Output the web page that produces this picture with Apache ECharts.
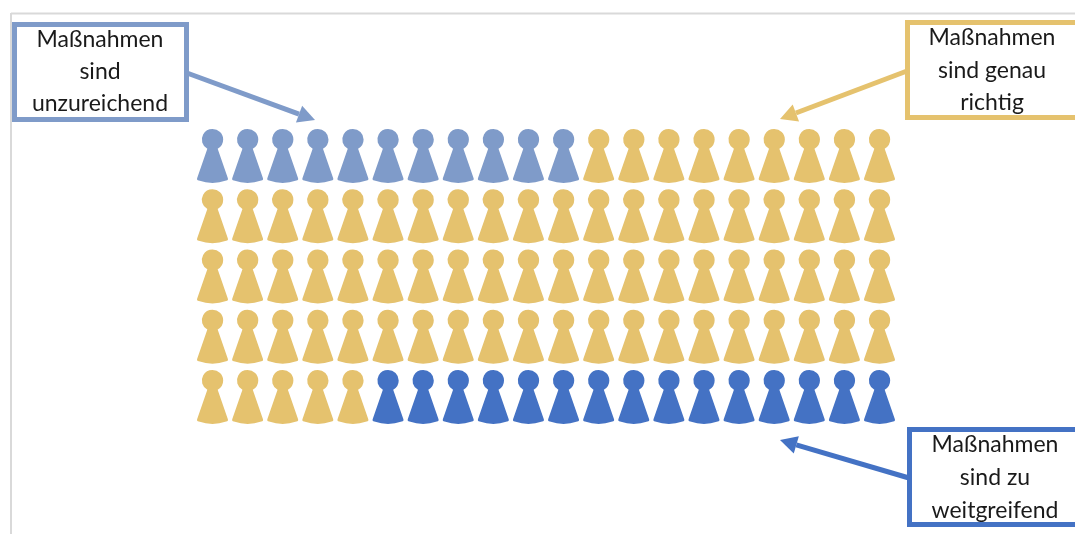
<!DOCTYPE html>
<html>
<head>
<meta charset="utf-8">
<style>html,body{margin:0;padding:0;background:#fff}#c{width:1075px;height:534px}</style>
<script src="https://cdn.jsdelivr.net/npm/echarts@6/dist/echarts.min.js"></script>
</head>
<body>
<div id="c"></div>
<script>
const categories = ['Maßnahmen sind unzureichend', 'Maßnahmen sind genau richtig', 'Maßnahmen sind zu weitgreifend'];
const counts = [11, 74, 15];
const colors = ['#7f9bc9', '#e5c26e', '#4472c4'];
const columns = 20;
const rows = 5;
const pawn = 'path://M15.5 0A10.5 10.5 0 0 1 20.6 19.7L30.6 49Q31.4 51 29 51.6Q15.5 56.4 2 51.6Q-0.4 51 0.4 49L10.4 19.7A10.5 10.5 0 0 1 15.5 0Z';
const font = 'Lato';

function callout(x, y, w, h, color, lines, cx, ys, from, to) {
  const ang = Math.atan2(to[1] - from[1], to[0] - from[0]);
  const L = 17, W = 9;
  const bx = to[0] - L * Math.cos(ang), by = to[1] - L * Math.sin(ang);
  const nx = -Math.sin(ang), ny = Math.cos(ang);
  const els = [
    { type: 'line', shape: { x1: from[0], y1: from[1], x2: bx, y2: by }, style: { stroke: color, lineWidth: 5 } },
    { type: 'polygon', shape: { points: [to, [bx + nx * W, by + ny * W], [bx - nx * W, by - ny * W]] }, style: { fill: color } },
    { type: 'rect', shape: { x: x, y: y, width: w, height: h }, style: { fill: '#fff', stroke: color, lineWidth: 5 } }
  ];
  lines.forEach((t, i) => els.push({
    type: 'text', x: cx, y: ys[i],
    style: { text: t, fill: '#1a1a1a', font: '23px ' + font, textAlign: 'center', textVerticalAlign: 'middle' }
  }));
  return els;
}

const seriesList = [];
let idx = 0;
categories.forEach((name, k) => {
  const pts = [];
  for (let i = 0; i < counts[k]; i++, idx++) {
    pts.push([idx % columns, Math.floor(idx / columns)]);
  }
  seriesList.push({
    name: name, type: 'scatter', data: pts, symbol: pawn, symbolSize: [31, 54],
    symbolKeepAspect: false, itemStyle: { color: colors[k], opacity: 1 }, clip: false, silent: true
  });
});

const chart = echarts.init(document.getElementById('c'), null, { renderer: 'canvas' });
chart.setOption({
  animation: false,
  backgroundColor: '#fff',
  grid: { left: 212.5, right: 195.5, top: 156, bottom: 137 },
  xAxis: { type: 'value', min: 0, max: columns - 1, show: false },
  yAxis: { type: 'value', min: 0, max: rows - 1, inverse: true, show: false },
  series: seriesList,
  graphic: [
    { type: 'line', shape: { x1: 11, y1: 13.5, x2: 1075, y2: 13.5 }, style: { stroke: '#d9d9d9', lineWidth: 2 } },
    { type: 'line', shape: { x1: 11, y1: 13, x2: 11, y2: 534 }, style: { stroke: '#d9d9d9', lineWidth: 2 } },
    ...callout(14.5, 24.5, 172, 95, colors[0], ['Maßnahmen', 'sind', 'unzureichend'], 100, [40, 72, 104], [187, 73], [315, 120]),
    ...callout(907.5, 22.5, 175, 95, colors[1], ['Maßnahmen', 'sind genau', 'richtig'], 992, [38, 71, 103], [907, 71], [780, 119]),
    ...callout(909.5, 429.5, 175, 95, colors[2], ['Maßnahmen', 'sind zu', 'weitgreifend'], 995, [445, 478, 511], [909, 478], [780, 440])
  ]
});
</script>
</body>
</html>
